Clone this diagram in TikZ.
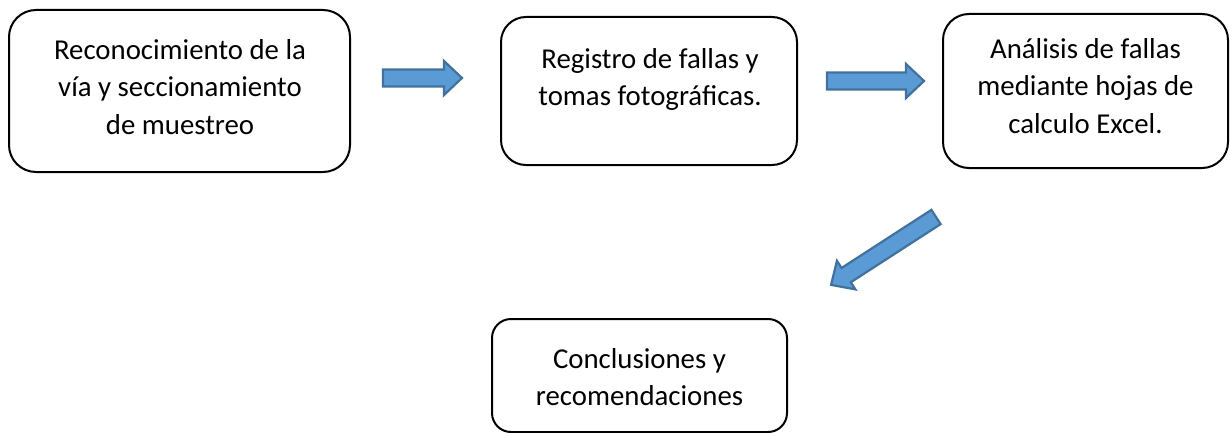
\documentclass[tikz,border=0pt]{standalone}
\usepackage{fontspec}
\setmainfont{Carlito}
\definecolor{arrfill}{HTML}{5B9BD5}
\definecolor{arrdraw}{HTML}{41719C}
\tikzset{
  stepbox/.style={draw=black, line width=2pt, rounded corners=#1, inner sep=0pt, outer sep=0pt},
  boxtext/.style={anchor=north, align=center, inner sep=0pt, font=\fontsize{28.8}{37.5}\selectfont},
  blockarrow/.style={fill=arrfill, draw=arrdraw, line width=2.2pt, line join=miter}
}
\newcommand\blockarr[4]{%
  \draw[blockarrow, shift={(#1,#2)}, rotate=#3]
    (0,-8.5) -- ({#4-18},-8.5) -- ({#4-18},-17) -- (#4,0) -- ({#4-18},17) -- ({#4-18},8.5) -- (0,8.5) -- cycle;}
\begin{document}
\begin{tikzpicture}[x=1pt,y=-1pt]
\useasboundingbox (0,0) rectangle (1230,433);
% boxes
\node[stepbox=27pt, minimum width=341pt, minimum height=162pt] (b1) at (179.5,91) {};
\node[stepbox=25pt, minimum width=296pt, minimum height=148pt] (b2) at (649,91) {};
\node[stepbox=26pt, minimum width=285pt, minimum height=154pt] (b3) at (1085.5,91) {};
\node[stepbox=19pt, minimum width=295pt, minimum height=113pt] (b4) at (639.5,375.5) {};
% texts
\node[boxtext] (t1) at (180,39) {Reconocimiento de la\\vía y seccionamiento\\de muestreo};
\node[boxtext] (t2) at (650,48) {Registro de fallas y\\tomas fotográficas.};
\node[boxtext] (t3) at (1085.5,38) {Análisis de fallas\\mediante hojas de\\calculo Excel.};
\node[boxtext] (t4) at (639.5,348) {Conclusiones y\\recomendaciones};
% block arrows
\blockarr{383}{78}{0}{79}
\blockarr{827}{81}{0}{97}
\blockarr{936}{217}{212.9}{125}
\end{tikzpicture}
\end{document}
